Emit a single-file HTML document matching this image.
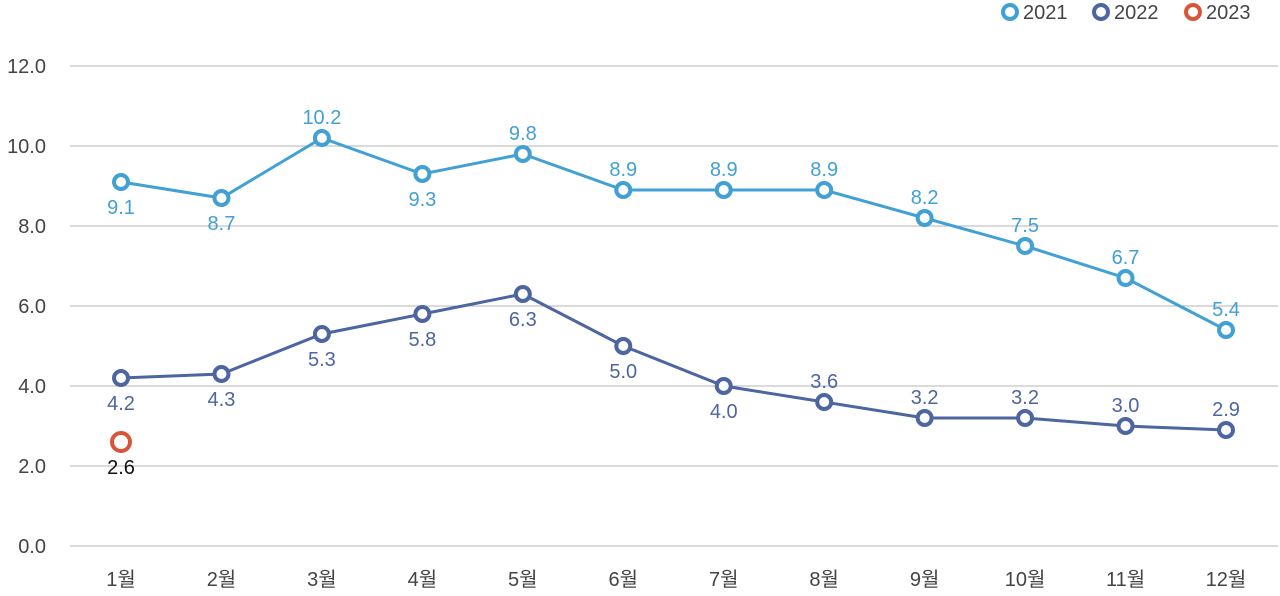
<!DOCTYPE html>
<html><head><meta charset="utf-8"><style>
body{margin:0;background:#fff;font-family:"Liberation Sans","Noto Sans CJK KR",sans-serif;}
svg text{font-family:"Liberation Sans","Noto Sans CJK KR",sans-serif;}
</style></head><body>
<svg id="chart" width="1280" height="591" xmlns="http://www.w3.org/2000/svg"></svg>
<script>
const categories=["1월","2월","3월","4월","5월","6월","7월","8월","9월","10월","11월","12월"];
const s2021=[9.1,8.7,10.2,9.3,9.8,8.9,8.9,8.9,8.2,7.5,6.7,5.4];
const s2022=[4.2,4.3,5.3,5.8,6.3,5.0,4.0,3.6,3.2,3.2,3.0,2.9];
const s2023=[2.6];
const yTicks=[0,2,4,6,8,10,12];
const below2021=[true,true,false,true,false,false,false,false,false,false,false,false];
const below2022=[true,true,true,true,true,true,true,false,false,false,false,false];
const svg=document.getElementById('chart');
const NS='http://www.w3.org/2000/svg';
const x=i=>121+i*(1226-121)/11;
const y=v=>546-v*40;
function mk(tag,attrs,parent){const e=document.createElementNS(NS,tag);for(const k in attrs)e.setAttribute(k,attrs[k]);(parent||svg).appendChild(e);return e;}
yTicks.forEach(t=>{
  const g=mk('line',{x1:70,x2:1278,y1:y(t),y2:y(t),stroke:'#b5b5b5','stroke-width':1});
  
  
  const l=mk('text',{x:46,y:y(t)+7,'text-anchor':'end','font-size':20,fill:'#444'});
  l.textContent=t.toFixed(1);
  
  
});
categories.forEach((c,i)=>{
  const l=mk('text',{x:x(i),y:586,'text-anchor':'middle','font-size':20,fill:'#444'});
  l.textContent=c;
  
  
});
function series(vals,color,below,name,labelColor){
  if(vals.length>1){
    const p=mk('polyline',{points:vals.map((v,i)=>x(i)+','+y(v)).join(' '),fill:'none',stroke:color,'stroke-width':3});
    
    
  }
  vals.forEach((v,i)=>{
    const c=mk('circle',{cx:x(i),cy:y(v),r:name==='series-2023'?9:7,fill:'#fff',stroke:color,'stroke-width':4});
    
    
    const t=mk('text',{x:x(i),y:below[i]?y(v)+32:y(v)-14,'text-anchor':'middle','font-size':20,fill:labelColor||color});
    t.textContent=v.toFixed(1);
    
    
  });
}
series(s2021,'#41a0d4',below2021,'series-2021');
series(s2022,'#4d65a0',below2022,'series-2022');
series(s2023,'#d9553a',[true],'series-2023','#111');
const legend=[['2021','#41a0d4',1010],['2022','#4d65a0',1101],['2023','#d9553a',1193]];
legend.forEach(([n,c,lx])=>{
  const ci=mk('circle',{cx:lx,cy:12,r:7,fill:'#fff',stroke:c,'stroke-width':4});
  
  
  const t=mk('text',{x:lx+13,y:19,'font-size':20,fill:'#444'});
  t.textContent=n;
  
  
});
</script>
</body></html>
